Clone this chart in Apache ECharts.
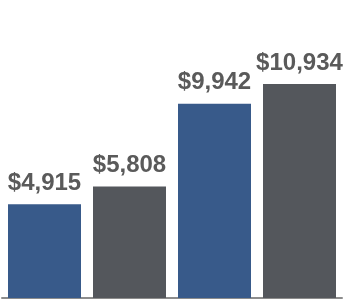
<!DOCTYPE html>
<html><head><meta charset="utf-8">
<script src="https://cdn.jsdelivr.net/npm/echarts@6/dist/echarts.min.js"></script>
<style>html,body{margin:0;padding:0;background:#fff}#c{width:344px;height:300px}</style>
</head><body><div id="c"></div>
<script>
const categories = ['A', 'B', 'C', 'D'];
const values = [4915, 5808, 9942, 10934];
const barColors = ['#385a8a', '#54575c', '#385a8a', '#54575c'];

const chart = echarts.init(document.getElementById('c'), null, {renderer: 'canvas'});
chart.setOption({
  animation: false,
  backgroundColor: '#fff',
  grid: {left: 2, right: 2, top: 0, bottom: 2},
  xAxis: {
    type: 'category', data: categories,
    axisLine: {show: true, lineStyle: {color: '#8c8c8c', width: 2}},
    axisTick: {show: false}, axisLabel: {show: false}
  },
  yAxis: {
    type: 'value', min: 225, max: 15135, show: false,
    splitLine: {show: false}
  },
  series: [{
    type: 'bar', barWidth: 73,
    data: values.map((v, i) => ({value: v, itemStyle: {color: barColors[i]}})),
    label: {
      show: true, position: 'top', distance: 9,
      fontFamily: 'Liberation Sans, Arial, sans-serif', fontWeight: 'bold', fontSize: 24,
      color: '#5a5a5a',
      formatter: p => '$' + p.value.toLocaleString('en-US')
    }
  }]
});
</script></body></html>
